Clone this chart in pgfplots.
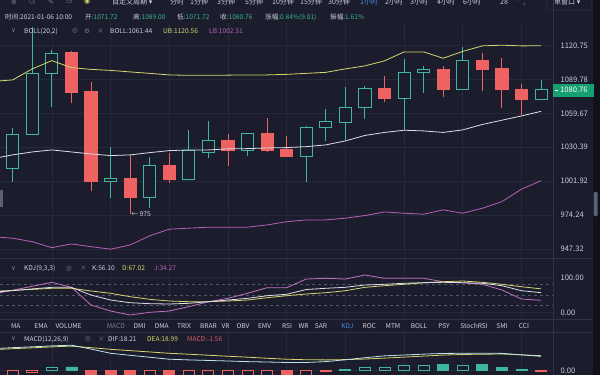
\documentclass[border=0pt]{standalone}
\usepackage{pgfplots}
\pgfplotsset{compat=1.18}
\usepackage{pgfplotstable}
\usepackage{fontspec}
\setmainfont{Noto Sans CJK SC}
\newfontfamily\sym{DejaVu Sans}

\definecolor{bg}{RGB}{27,29,44}
\definecolor{gridc}{RGB}{38,41,58}
\definecolor{sepc}{RGB}{48,51,70}
\definecolor{txt}{RGB}{205,208,218}
\definecolor{dim}{RGB}{120,124,142}
\definecolor{teal}{RGB}{64,182,160}
\definecolor{redc}{RGB}{239,98,98}
\definecolor{ubc}{RGB}{214,214,110}
\definecolor{midc}{RGB}{222,222,232}
\definecolor{lbc}{RGB}{186,96,186}
\definecolor{grn}{RGB}{52,184,140}
\definecolor{bluec}{RGB}{70,140,230}
\definecolor{boxc}{RGB}{22,160,112}
\definecolor{macdc}{RGB}{214,92,112}

\pgfplotstableread{
x o h l c
0 1012.7 1046.7 1001.5 1041.6
1 1041.6 1138.0 1041.6 1095.5
2 1095.5 1116.8 1065.1 1113.7
3 1114.3 1116.1 1068.6 1078.4
4 1078.9 1087.9 993.9 1001.5
5 1001.5 1030.9 987.9 1004.0
6 1003.8 1023.9 975.0 988.4
7 988.7 1022.5 979.7 1014.6
8 1014.6 1025.3 1000.7 1002.9
9 1003.5 1045.3 1003.5 1027.5
10 1026.2 1053.4 1021.6 1035.8
11 1035.8 1041.8 1014.6 1027.9
12 1027.9 1042.4 1023.3 1042.4
13 1042.4 1055.4 1026.7 1027.5
14 1028.4 1040.4 1022.5 1022.5
15 1022.5 1048.7 1001.0 1047.6
16 1047.6 1063.6 1035.8 1052.2
17 1052.0 1083.4 1036.7 1065.1
18 1065.1 1083.8 1054.6 1081.3
19 1081.3 1093.3 1070.0 1073.0
20 1073.0 1108.5 1045.3 1096.0
21 1095.7 1102.4 1077.5 1098.5
22 1098.5 1102.4 1073.9 1081.1
23 1081.1 1119.8 1081.1 1106.9
24 1106.9 1113.7 1079.5 1098.5
25 1099.4 1109.7 1064.2 1080.4
26 1080.4 1085.5 1058.3 1071.72
27 1071.72 1089.00 1071.72 1080.76
}\candles

\pgfplotstableread{
x ub mid lb
-0.649 1088.5 1021.9 956.5
0 1089.4 1023.9 955.7
1 1099.4 1026.4 953.0
2 1106.9 1028.1 948.3
3 1100.5 1026.4 951.2
4 1098.9 1024.7 949.1
5 1098.0 1023.3 947.1
6 1096.6 1023.9 950.4
7 1095.3 1025.8 957.6
8 1093.9 1027.5 962.9
9 1093.5 1028.1 963.7
10 1093.5 1028.1 964.5
11 1093.7 1029.0 964.5
12 1093.9 1029.2 964.5
13 1093.9 1029.8 966.3
14 1094.4 1030.1 968.9
15 1095.3 1030.9 970.3
16 1096.2 1032.4 970.3
17 1099.4 1035.8 971.7
18 1102.1 1040.5 973.8
19 1106.7 1043.1 976.7
20 1114.9 1045.0 975.7
21 1114.9 1044.4 974.9
22 1109.1 1043.1 978.4
23 1115.4 1045.3 975.7
24 1120.5 1050.0 979.7
25 1121.1 1053.7 985.1
26 1120.5 1057.4 995.3
27 1120.56 1061.44 1002.31
}\boll

\pgfplotstableread{
x k d j
-0.649 58.9 60.9 56.0
0 62.0 62.6 63.1
1 66.9 65.4 74.3
2 71.4 68.6 85.7
3 71.4 68.6 71.4
4 49.4 60.9 20.9
5 35.1 54.3 3.7
6 27.4 44.6 -7.7
7 24.6 37.1 0.0
8 23.7 32.3 3.7
9 25.7 30.3 16.0
10 30.3 30.3 30.3
11 35.1 32.3 40.0
12 40.0 35.1 54.3
13 47.4 41.7 70.3
14 51.4 47.4 70.3
15 65.1 52.3 95.1
16 68.6 56.0 97.1
17 71.4 61.7 95.1
18 78.0 71.4 106.6
19 80.0 76.0 97.1
20 82.9 80.0 97.1
21 84.6 84.6 97.1
22 85.7 87.4 87.4
23 84.6 89.4 84.6
24 82.9 85.7 80.0
25 76.0 80.0 63.7
26 61.7 73.1 38.0
27 56.10 67.02 34.27
}\kdj

\pgfplotstableread{
x dif dea
-0.649 28.5 27.2
0 29.3 28.0
1 30.4 29.1
2 31.6 30.3
3 32.5 31.3
4 27.5 29.3
5 22.1 27.2
6 19.5 25.5
7 17.0 23.8
8 14.5 22.1
9 13.6 20.9
10 12.9 19.6
11 12.2 18.3
12 11.4 17.1
13 10.9 15.7
14 10.3 14.5
15 10.3 13.8
16 11.4 13.6
17 13.8 14.0
18 16.4 14.7
19 18.8 15.9
20 19.9 17.2
21 21.0 18.5
22 21.9 19.8
23 22.1 20.6
24 22.1 20.9
25 22.0 21.2
26 20.1 20.1
27 18.21 18.99
}\macd

\pgfplotsset{
  panel/.style={
    scale only axis, width=553pt, anchor=south west,
    xmin=-0.649, xmax=27.61,
    axis line style={draw=none}, major tick length=0pt, minor tick length=0pt,
    xtick={2,5,...,26}, xticklabels={,,,,,,,,,},
    xmajorgrids, ymajorgrids,
    grid style={gridc, line width=0.6pt},
    yticklabel pos=right,
    yticklabel style={anchor=west, xshift=4pt, text=txt, font=\fontsize{7.6}{9}\selectfont},
  },
  wickup/.style={draw=teal, line width=0.9pt},
  wickdn/.style={draw=redc, line width=0.9pt},
  bodyup/.style={draw=teal, fill=bg, line width=0.9pt},
  bodydn/.style={draw=redc, fill=redc, line width=0.9pt},
}

\begin{document}
\begin{tikzpicture}
\useasboundingbox (0pt,0pt) rectangle (600pt,-375pt);
\fill[bg] (0pt,0pt) rectangle (600pt,-375pt);
\clip (0pt,0pt) rectangle (600pt,-375pt);
\fill[black!40!bg] (593pt,0pt) rectangle (600pt,-375pt);

% ---------------- main price panel
\begin{axis}[panel, at={(0pt,-258pt)}, height=236pt,
  ymode=log, ymin=940.3, ymax=1142.9,
  ytick={947.32,974.24,1001.92,1030.39,1059.67,1089.78,1120.75},
  yticklabels={947.32,974.24,1001.92,1030.39,1059.67,1089.78,1120.75}]
\pgfplotstablegetrowsof{\candles}
\pgfmathtruncatemacro{\lastrow}{\pgfplotsretval-1}
\pgfplotsforeachungrouped \ci in {0,...,\lastrow}{%
  \pgfplotstablegetelem{\ci}{x}\of\candles\let\cX\pgfplotsretval
  \pgfplotstablegetelem{\ci}{o}\of\candles\let\cO\pgfplotsretval
  \pgfplotstablegetelem{\ci}{h}\of\candles\let\cH\pgfplotsretval
  \pgfplotstablegetelem{\ci}{l}\of\candles\let\cL\pgfplotsretval
  \pgfplotstablegetelem{\ci}{c}\of\candles\let\cC\pgfplotsretval
  \pgfmathsetmacro\cXl{\cX-0.31}%
  \pgfmathsetmacro\cXr{\cX+0.31}%
  \pgfmathparse{\cC>=\cO ? 1 : 0}%
  \ifdim\pgfmathresult pt>0.5pt \def\cKind{up}\else\def\cKind{dn}\fi
  \edef\candlecmd{%
    \noexpand\addplot[wick\cKind] coordinates {(\cX,\cL) (\cX,\cH)};%
    \noexpand\addplot[body\cKind] coordinates {(\cXl,\cO) (\cXr,\cO) (\cXr,\cC) (\cXl,\cC)} -- cycle;%
  }%
  \candlecmd
}
\addplot[ubc, line width=0.8pt] table[x=x, y=ub] {\boll};
\addplot[midc, line width=0.8pt] table[x=x, y=mid] {\boll};
\addplot[lbc, line width=0.8pt] table[x=x, y=lb] {\boll};
\node[anchor=west, inner sep=0pt, text=txt, font=\fontsize{6.8}{8}\selectfont] at (axis cs:6.05,975) {← 975};
\end{axis}

% ---------------- KDJ panel
\begin{axis}[panel, at={(0pt,-318pt)}, height=59pt,
  ymin=-16.3, ymax=152.3, ytick={0,100}, yticklabels={0.00,100.00},
  extra y ticks={20,50,80}, extra y tick labels={,,},
  extra y tick style={grid style={dashed, color=dim!60!bg, line width=0.6pt}}]
\addplot[lbc!90!white, line width=0.8pt] table[x=x, y=j] {\kdj};
\addplot[ubc, line width=0.8pt] table[x=x, y=d] {\kdj};
\addplot[midc, line width=0.8pt] table[x=x, y=k] {\kdj};
\end{axis}

% ---------------- MACD panel
\begin{axis}[panel, at={(0pt,-375pt)}, height=43pt,
  ymin=-5.77, ymax=49.4, ytick={0}, yticklabels={0.00}]
\addplot[ybar, bar width=11pt, bar shift=0pt, draw=redc, fill=redc, line width=0.8pt]
  coordinates {(4,-8) (5,-8) (6,-8) (8,-8) (14,-8) (16,-1) (27,-1.56)};
\addplot[ybar, bar width=11pt, bar shift=0pt, draw=redc, fill=bg, line width=0.8pt]
  coordinates {(0,-8) (1,-2) (7,-8) (9,-8) (10,-8) (11,-8) (12,-8) (13,-8) (15,-8)};
\addplot[ybar, bar width=11pt, bar shift=0pt, draw=teal, fill=bg, line width=0.8pt]
  coordinates {(2,4.5) (18,4) (19,4) (20,7) (21,7) (23,7)};
\addplot[ybar, bar width=11pt, bar shift=0pt, draw=teal, fill=teal, line width=0.8pt]
  coordinates {(3,4.5) (17,1) (22,8) (24,7.5) (25,4) (26,1.2)};
\addplot[ubc, line width=0.8pt] table[x=x, y=dea] {\macd};
\addplot[midc!85!cyan, line width=0.8pt] table[x=x, y=dif] {\macd};
\end{axis}

% ---------------- separators
\draw[sepc, line width=0.6pt] (553pt,0pt) -- (553pt,-375pt);
\draw[sepc, line width=0.6pt] (0pt,-258.5pt) -- (593pt,-258.5pt);
\draw[sepc, line width=0.6pt] (0pt,-319.5pt) -- (593pt,-319.5pt);
\draw[sepc, line width=0.6pt] (0pt,-332pt) -- (593pt,-332pt);

% last price tag
\fill[boxc] (553pt,-83.5pt) rectangle (594pt,-96.5pt);
\draw[white, line width=0.6pt] (555pt,-90pt) -- (558pt,-90pt);
\node[anchor=west, inner sep=0pt, text=white, font=\fontsize{7.6}{9}\selectfont] at (560pt,-90pt) {1080.76};

% scroll handles
\fill[dim!70!bg, rounded corners=1pt] (593.5pt,-192pt) rectangle (597.5pt,-216pt);
\fill[dim!70!bg] (0pt,-190pt) rectangle (2.5pt,-207pt);

% ---------------- toolbar
\begin{scope}[every node/.style={anchor=west, inner sep=0pt, text=txt, font=\fontsize{7}{8}\selectfont}]
\node[text=dim] at (11pt,-2pt) {\sym ⊕};
\node[text=dim] at (29pt,-2pt) {\sym ◷};
\node[text=dim] at (48pt,-2pt) {\sym ✎};
\node[text=dim] at (66pt,-2pt) {\sym ▭};
\node[text=ubc] at (84pt,-2pt) {\sym ◉};
\node at (112pt,-2pt) {自定义周期 {\sym ▾}};
\node at (170pt,-2pt) {分时};
\node at (190pt,-2pt) {1分钟};
\node at (217pt,-2pt) {3分钟};
\node at (245pt,-2pt) {5分钟};
\node at (272pt,-2pt) {10分钟};
\node at (300pt,-2pt) {15分钟};
\node at (328pt,-2pt) {30分钟};
\node[text=bluec] at (360pt,-2pt) {1小时};
\node at (385pt,-2pt) {2小时};
\node at (410pt,-2pt) {3小时};
\node at (437pt,-2pt) {4小时};
\node at (463pt,-2pt) {6小时};
\node at (500pt,-2pt) {28};
\node[text=dim] at (517pt,-2pt) {\sym ⌜ ⌟};
\node at (554pt,-2pt) {单窗口 {\sym ▾}};
\end{scope}
\draw[sepc, line width=0.7pt, rounded corners=1.5pt] (547pt,2pt) rectangle (592pt,-10pt);

% ---------------- info line
\begin{scope}[every node/.style={anchor=west, inner sep=0pt, text=txt, font=\fontsize{6.6}{8}\selectfont}]
\node at (5pt,-17.3pt) {时间:2021-01-06 10:00};
\node at (85pt,-17.3pt) {开:\textcolor{grn}{1071.72}};
\node at (133pt,-17.3pt) {高:\textcolor{grn}{1089.00}};
\node at (177pt,-17.3pt) {低:\textcolor{grn}{1071.72}};
\node at (220pt,-17.3pt) {收:\textcolor{grn}{1080.76}};
\node at (265pt,-17.3pt) {涨幅:\textcolor{grn}{0.84\%(9.01)}};
\node at (330pt,-17.3pt) {振幅:\textcolor{grn}{1.61\%}};
\end{scope}

% ---------------- indicator label lines
\begin{scope}[every node/.style={anchor=west, inner sep=0pt, text=txt, font=\fontsize{6.6}{8}\selectfont}]
\node[text=dim] at (11pt,-31pt) {\sym ∨};
\node at (24pt,-31pt) {BOLL(20,2)};
\node[text=dim] at (72pt,-31pt) {\sym ◎};
\node[text=dim] at (84pt,-31pt) {\sym ⚙};
\node[text=dim] at (97pt,-31pt) {×};
\node at (110pt,-31pt) {BOLL:1061.44};
\node[text=ubc] at (163pt,-31pt) {UB:1120.56};
\node[text=lbc] at (209pt,-31pt) {LB:1002.31};

\node[text=dim] at (11pt,-268.3pt) {\sym ∨};
\node at (24pt,-268.3pt) {KDJ(9,3,3)};
\node[text=dim] at (66pt,-268.3pt) {\sym ◎};
\node[text=dim] at (80pt,-268.3pt) {×};
\node at (92pt,-268.3pt) {K:56.10};
\node[text=ubc] at (122pt,-268.3pt) {D:67.02};
\node[text=lbc] at (154pt,-268.3pt) {J:34.27};

\node[text=dim] at (11pt,-339pt) {\sym ∨};
\node at (24pt,-339pt) {MACD(12,26,9)};
\node[text=dim] at (85pt,-339pt) {\sym ◎};
\node[text=dim] at (98pt,-339pt) {×};
\node at (108pt,-339pt) {DIF:18.21};
\node[text=ubc] at (147pt,-339pt) {DEA:18.99};
\node[text=macdc] at (187pt,-339pt) {MACD:-1.56};
\end{scope}

% ---------------- tabs
\begin{scope}[every node/.style={anchor=center, inner sep=0pt, text=txt, font=\fontsize{6.6}{8}\selectfont}]
\node at (15.7pt,-326pt) {MA};
\node at (41pt,-326pt) {EMA};
\node at (68.5pt,-326pt) {VOLUME};
\node[text=dim] at (115.8pt,-326pt) {MACD};
\node at (139.6pt,-326pt) {DMI};
\node at (161.8pt,-326pt) {DMA};
\node at (184pt,-326pt) {TRIX};
\node at (208.5pt,-326pt) {BRAR};
\node at (225.6pt,-326pt) {VR};
\node at (243pt,-326pt) {OBV};
\node at (264.6pt,-326pt) {EMV};
\node at (287pt,-326pt) {RSI};
\node at (303.5pt,-326pt) {WR};
\node at (321pt,-326pt) {SAR};
\node[text=bluec] at (347.3pt,-326pt) {KDJ};
\node at (369.3pt,-326pt) {ROC};
\node at (393pt,-326pt) {MTM};
\node at (419pt,-326pt) {BOLL};
\node at (444pt,-326pt) {PSY};
\node at (474pt,-326pt) {StochRSI};
\node at (502pt,-326pt) {SMI};
\node at (524pt,-326pt) {CCI};
\end{scope}
\end{tikzpicture}
\end{document}
